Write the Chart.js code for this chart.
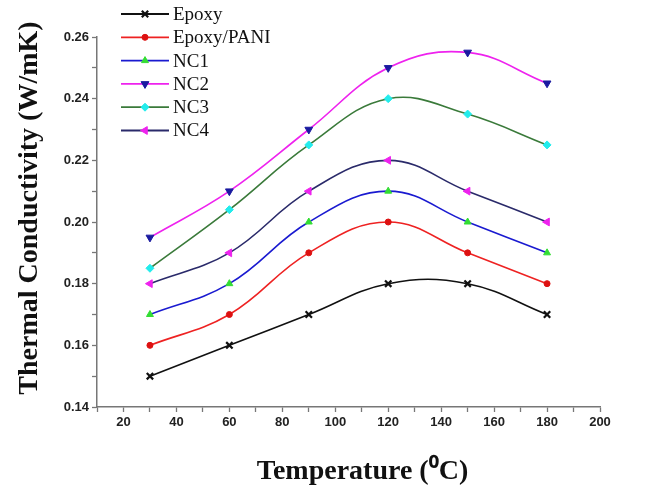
<!DOCTYPE html>
<html>
<head>
<meta charset="utf-8">
<script src="https://cdn.jsdelivr.net/npm/chart.js@4.4.1/dist/chart.umd.min.js"></script>
<style>
  html, body { margin: 0; padding: 0; background: #fff; }
  #wrap { width: 647px; height: 489px; }
</style>
</head>
<body>
<div id="wrap"><canvas id="tcChart" width="647" height="489"></canvas></div>
<script>
// temperatures (°C)
const temps = [30, 60, 90, 120, 150, 180];

// thermal conductivity (W/mK) per sample
const epoxy     = [0.150, 0.160, 0.170, 0.180, 0.180, 0.170];
const epoxyPani = [0.160, 0.170, 0.190, 0.200, 0.190, 0.180];
const nc1       = [0.170, 0.180, 0.200, 0.210, 0.200, 0.190];
const nc2       = [0.195, 0.210, 0.230, 0.250, 0.255, 0.245];
const nc3       = [0.185, 0.204, 0.225, 0.240, 0.235, 0.225];
const nc4       = [0.180, 0.190, 0.210, 0.220, 0.210, 0.200];

const seriesNames = ['Epoxy', 'Epoxy/PANI', 'NC1', 'NC2', 'NC3', 'NC4'];

// helper: build a dataset
function makeSet(label, values, lineColor, markColor, style, rot, radius) {
  return {
    label: label,
    data: temps.map((t, i) => ({ x: t, y: values[i] })),
    borderColor: lineColor,
    backgroundColor: markColor,
    pointBorderColor: markColor,
    pointBackgroundColor: markColor,
    pointStyle: style,
    pointRotation: rot,
    pointRadius: radius,
    pointBorderWidth: style === 'crossRot' ? 2.2 : 1,
    borderWidth: 1.6,
    tension: 0.4
  };
}

const datasets = [
  makeSet(seriesNames[0], epoxy,     '#111111', '#111111', 'crossRot', 0, 4.5),
  makeSet(seriesNames[1], epoxyPani, '#ee2222', '#dd1111', 'circle',   0, 3),
  makeSet(seriesNames[2], nc1,       '#1a1ad0', '#33dd33', 'triangle', 0, 4),
  makeSet(seriesNames[3], nc2,       '#ee22ee', '#1a1aa0', 'triangle', 180, 4.5),
  makeSet(seriesNames[4], nc3,       '#3a7a3a', '#22ecec', 'rectRot',  0, 4),
  makeSet(seriesNames[5], nc4,       '#2a2a6a', '#ee22ee', 'triangle', 270, 4.5)
];

// legend in the top-left corner, partly above the plot area
const cornerLegend = {
  id: 'cornerLegend',
  afterDraw(chart) {
    const ctx = chart.ctx;
    chart.data.datasets.forEach((ds, i) => {
      const y = 14 + i * 23.3;
      ctx.save();
      ctx.strokeStyle = ds.borderColor;
      ctx.lineWidth = 1.8;
      ctx.beginPath();
      ctx.moveTo(121, y);
      ctx.lineTo(169, y);
      ctx.stroke();
      ctx.fillStyle = ds.pointBackgroundColor;
      ctx.strokeStyle = ds.pointBorderColor;
      ctx.lineWidth = ds.pointBorderWidth;
      Chart.helpers.drawPoint(ctx, {
        pointStyle: ds.pointStyle,
        rotation: ds.pointRotation,
        radius: ds.pointRadius,
        borderWidth: ds.pointBorderWidth
      }, 145, y);
      ctx.fillStyle = '#111';
      ctx.font = '19px "Liberation Serif", "Times New Roman", serif';
      ctx.textBaseline = 'middle';
      ctx.fillText(ds.label, 173, y + 1);
      ctx.restore();
    });
  }
};

const tickFont = { family: 'Liberation Sans, Arial, sans-serif', size: 13, weight: 'bold' };
const titleFont = { family: 'Liberation Serif, Times New Roman, serif', size: 28, weight: 'bold' };

new Chart(document.getElementById('tcChart').getContext('2d'), {
  type: 'line',
  data: { datasets: datasets },
  options: {
    responsive: false,
    animation: false,
    layout: { padding: { top: 37, right: 47, left: 0, bottom: 0 } },
    plugins: {
      legend: { display: false },
      tooltip: { enabled: false }
    },
    scales: {
      x: {
        type: 'linear',
        min: 10,
        max: 200,
        afterFit(scale) { scale.height = 82; },
        border: { color: '#777', width: 1.5 },
        grid: { drawOnChartArea: false, drawTicks: true, tickLength: 5, color: '#777',
                tickWidth: 1.3 },
        ticks: {
          stepSize: 10,
          color: '#222',
          font: tickFont,
          padding: 3,
          maxRotation: 0,
          autoSkip: false,
          callback: v => (v % 20 === 0 ? v : '')
        },
        title: {
          display: true,
          text: '    Temperature (\u2070C)',
          color: '#111',
          font: titleFont,
          padding: { top: 10, bottom: 0 }
        }
      },
      y: {
        min: 0.14,
        max: 0.26,
        afterFit(scale) { scale.width = 97; },
        border: { color: '#777', width: 1.5 },
        grid: { drawOnChartArea: false, drawTicks: true, tickLength: 5, color: '#777',
                tickWidth: 1.3 },
        ticks: {
          stepSize: 0.01,
          color: '#222',
          font: tickFont,
          padding: 3,
          autoSkip: false,
          callback: v => (Math.round(v * 100) % 2 === 0 ? v.toFixed(2) : '')
        },
        title: {
          display: true,
          text: '    Thermal Conductivity (W/mK)',
          color: '#111',
          font: titleFont,
          padding: { top: 13, bottom: 4 }
        }
      }
    }
  },
  plugins: [cornerLegend]
});
</script>
</body>
</html>
